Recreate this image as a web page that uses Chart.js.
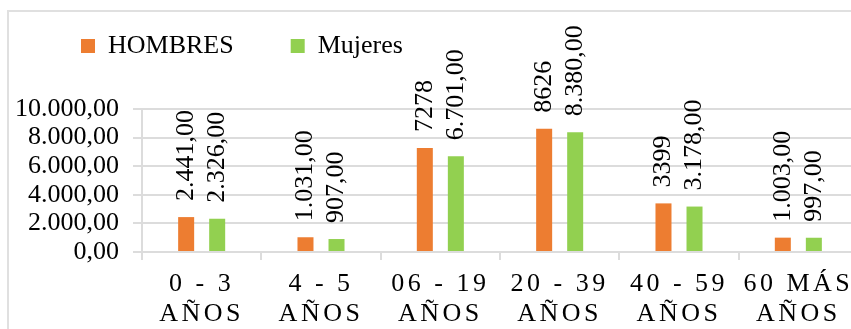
<!DOCTYPE html>
<html>
<head>
<meta charset="utf-8">
<script src="https://cdn.jsdelivr.net/npm/chart.js@4/dist/chart.umd.min.js"></script>
<style>
  html, body { margin: 0; padding: 0; overflow: hidden; background: #fff; }
  #frame { position: absolute; left: 7px; top: 10px; width: 1000px; height: 500px; border: 2px solid #e0e0e0; }
  #chart { position: absolute; left: 0; top: 0; }
</style>
</head>
<body>
<div id="frame"></div>
<canvas id="chart" width="858" height="329"></canvas>
<script>
// Age groups (two lines each)
const categories = [
    ['0 - 3', 'AÑOS'],
    ['4 - 5', 'AÑOS'],
    ['06 - 19', 'AÑOS'],
    ['20 - 39', 'AÑOS'],
    ['40 - 59', 'AÑOS'],
    ['60 MÁS', 'AÑOS']
];
const hombres = [2441, 1031, 7278, 8626, 3399, 1003];
const mujeres = [2326, 907, 6701, 8380, 3178, 997];
// some HOMBRES labels show the raw number, without format
const hombresPlain = [false, false, true, true, true, false];
const yTicks = [0, 2000, 4000, 6000, 8000, 10000];

const FONT = '"Liberation Serif", "Times New Roman", serif';

// 1234.5 -> "1.234,50"
function fmt(v) {
    const parts = v.toFixed(2).split('.');
    return parts[0].replace(/\B(?=(\d{3})+(?!\d))/g, '.') + ',' + parts[1];
}

// Vertical value labels above each bar
const valueLabels = {
    id: 'valueLabels',
    afterDatasetsDraw(chart) {
        const ctx = chart.ctx;
        chart.data.datasets.forEach((ds, i) => {
            const meta = chart.getDatasetMeta(i);
            meta.data.forEach((bar, j) => {
                const text = ds.plain && ds.plain[j] ? String(ds.data[j]) : fmt(ds.data[j]);
                ctx.save();
                ctx.translate(bar.x, bar.y - 16);
                ctx.rotate(-Math.PI / 2);
                ctx.font = '26px ' + FONT;
                ctx.fillStyle = '#000';
                ctx.textAlign = 'left';
                ctx.textBaseline = 'middle';
                ctx.fillText(text, 0, 0);
                ctx.restore();
            });
        });
    }
};

// Legend: fixed height, then nudged up and right
const legendPlace = {
    id: 'legendPlace',
    beforeInit(chart) {
        const fit = chart.legend.fit;
        chart.legend.fit = function() {
            fit.call(this);
            this.height = 109;
        };
    },
    afterLayout(chart) {
        chart.legend.left += 24;
        chart.legend.top -= 24;
    }
};

// Spaced-out letters on the category labels
const spacedLabels = {
    id: 'spacedLabels',
    afterLayout(chart) {
        const scale = chart.scales.x;
        if (scale._spaced) return;
        const draw = scale.drawLabels.bind(scale);
        scale.drawLabels = function(area) {
            chart.ctx.letterSpacing = '3.5px';
            draw(area);
            chart.ctx.letterSpacing = '0px';
        };
        scale._spaced = true;
    }
};

Chart.defaults.font.family = FONT;
Chart.defaults.color = '#000';

const gridColor = '#dcdcdc';

new Chart(document.getElementById('chart'), {
    type: 'bar',
    data: {
        labels: categories,
        datasets: [{
            label: 'HOMBRES',
            data: hombres,
            plain: hombresPlain,
            backgroundColor: '#ED7D31',
            borderWidth: 0
        }, {
            label: 'Mujeres',
            data: mujeres,
            backgroundColor: '#92D050',
            borderWidth: 0
        }]
    },
    options: {
        responsive: false,
        animation: false,
        categoryPercentage: 0.52,
        barPercentage: 0.516,
        layout: {
            padding: 0
        },
        plugins: {
            legend: {
                align: 'start',
                labels: {
                    boxWidth: 14,
                    boxHeight: 14,
                    padding: 57,
                    color: '#000',
                    font: { size: 26 }
                }
            },
            tooltip: { enabled: false }
        },
        scales: {
            x: {
                afterFit(scale) {
                    scale.height = 77;
                },
                grid: {
                    drawOnChartArea: false,
                    color: gridColor,
                    lineWidth: 2,
                    tickLength: 8
                },
                border: { color: gridColor, width: 2 },
                ticks: {
                    padding: 9,
                    maxRotation: 0,
                    autoSkip: false,
                    font: { size: 26, lineHeight: 1.15 }
                }
            },
            y: {
                min: 0,
                max: 10000,
                afterFit(scale) {
                    scale.width = 142;
                },
                afterBuildTicks(scale) {
                    scale.ticks = yTicks.map(v => ({ value: v }));
                },
                grid: {
                    color: gridColor,
                    lineWidth: 2,
                    tickLength: 9
                },
                border: { color: gridColor, width: 2 },
                ticks: {
                    padding: 14,
                    autoSkip: false,
                    font: { size: 26 },
                    callback: v => fmt(v)
                }
            }
        }
    },
    plugins: [valueLabels, legendPlace, spacedLabels]
});
</script>
</body>
</html>
